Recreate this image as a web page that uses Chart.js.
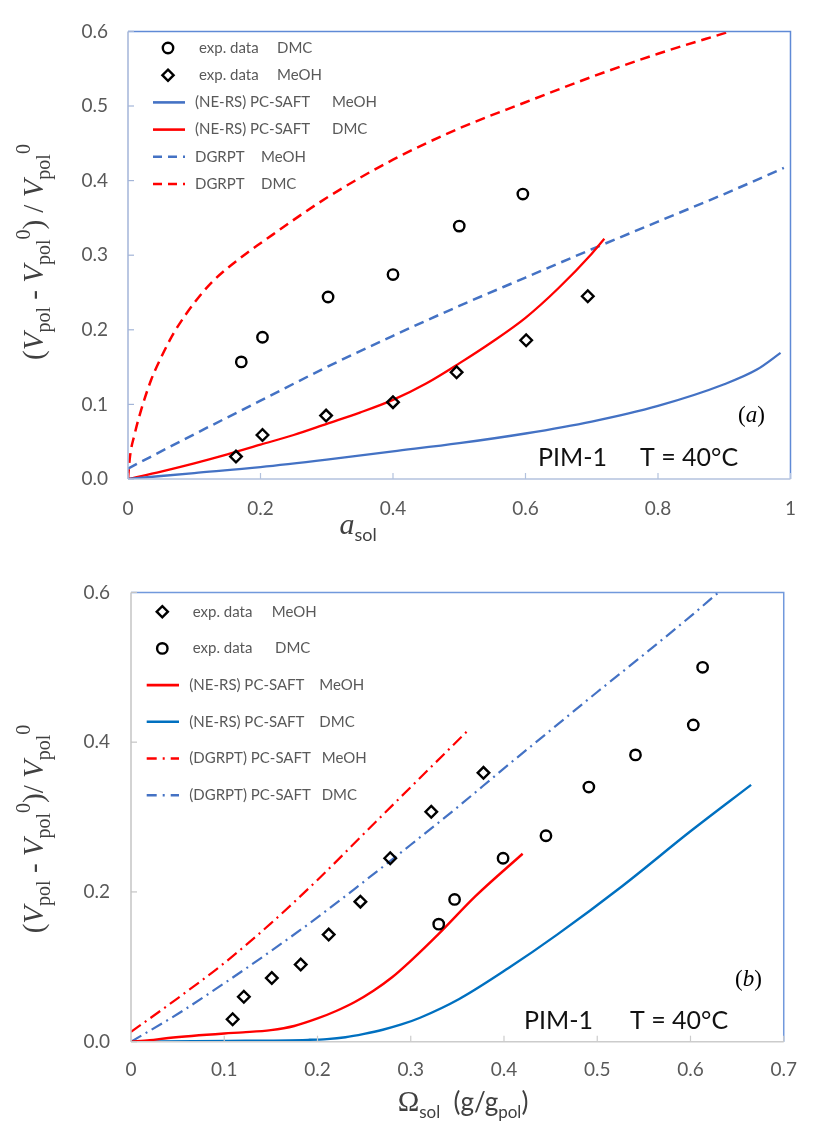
<!DOCTYPE html>
<html>
<head>
<meta charset="utf-8">
<script src="https://cdn.jsdelivr.net/npm/chart.js@4.4.1/dist/chart.umd.min.js"></script>
<style>
  html, body { margin: 0; padding: 0; background: #ffffff; }
  #wrap { position: relative; width: 814px; height: 1125px; }
  canvas { position: absolute; left: 0; }
  #chartA { top: 0; }
  #chartB { top: 560px; }
</style>
</head>
<body>
<div id="wrap">
  <canvas id="chartA" width="814" height="560"></canvas>
  <canvas id="chartB" width="814" height="565"></canvas>
</div>
<script>
// ---------- Panel (a): swelling vs solvent activity ----------
const aXTicks = [0, 0.2, 0.4, 0.6, 0.8, 1];
const aXTickLabels = ['0', '0.2', '0.4', '0.6', '0.8', '1'];
const aYTicks = [0, 0.1, 0.2, 0.3, 0.4, 0.5, 0.6];
const aYTickLabels = ['0.0', '0.1', '0.2', '0.3', '0.4', '0.5', '0.6'];

const aExpDmcX = [0.171, 0.203, 0.302, 0.400, 0.500, 0.596];
const aExpDmcY = [0.157, 0.190, 0.244, 0.274, 0.339, 0.382];
const aExpMeohX = [0.163, 0.203, 0.299, 0.400, 0.496, 0.601, 0.694];
const aExpMeohY = [0.030, 0.059, 0.085, 0.103, 0.143, 0.186, 0.245];

const aNersMeohX = [0, 0.1, 0.2, 0.3, 0.4, 0.5, 0.6, 0.7, 0.8, 0.9, 0.95, 0.985];
const aNersMeohY = [0, 0.008, 0.016, 0.026, 0.037, 0.048, 0.061, 0.077, 0.098, 0.127, 0.147, 0.169];
const aNersDmcX = [0, 0.05, 0.1, 0.15, 0.2, 0.25, 0.3, 0.35, 0.4, 0.45, 0.5, 0.55, 0.6, 0.65, 0.7, 0.719];
const aNersDmcY = [0, 0.010, 0.021, 0.033, 0.046, 0.059, 0.074, 0.089, 0.106, 0.128, 0.155, 0.184, 0.216, 0.256, 0.302, 0.322];
const aDgrptMeohX = [0, 0.1, 0.2, 0.3, 0.4, 0.5, 0.6, 0.7, 0.8, 0.9, 0.99];
const aDgrptMeohY = [0.014, 0.060, 0.105, 0.150, 0.192, 0.232, 0.270, 0.308, 0.345, 0.382, 0.417];
const aDgrptDmcX = [0, 0.003, 0.01, 0.02, 0.035, 0.05, 0.07, 0.1, 0.128, 0.175, 0.2, 0.3, 0.4, 0.5, 0.6, 0.7, 0.8, 0.909];
const aDgrptDmcY = [0, 0.03, 0.06, 0.093, 0.133, 0.163, 0.197, 0.236, 0.265, 0.300, 0.316, 0.377, 0.428, 0.47, 0.505, 0.539, 0.570, 0.600];

const aLegendLabels = [
  ['exp. data', 'DMC'],
  ['exp. data', 'MeOH'],
  ['(NE-RS) PC-SAFT', 'MeOH'],
  ['(NE-RS) PC-SAFT', 'DMC'],
  ['DGRPT', 'MeOH'],
  ['DGRPT', 'DMC']
];

// ---------- Panel (b): swelling vs solvent mass uptake ----------
const bXTicks = [0, 0.1, 0.2, 0.3, 0.4, 0.5, 0.6, 0.7];
const bXTickLabels = ['0', '0.1', '0.2', '0.3', '0.4', '0.5', '0.6', '0.7'];
const bYTicks = [0, 0.2, 0.4, 0.6];
const bYTickLabels = ['0.0', '0.2', '0.4', '0.6'];

const bExpMeohX = [0.109, 0.121, 0.151, 0.182, 0.212, 0.246, 0.278, 0.322, 0.378];
const bExpMeohY = [0.030, 0.060, 0.085, 0.103, 0.143, 0.187, 0.245, 0.307, 0.359];
const bExpDmcX = [0.330, 0.347, 0.399, 0.445, 0.491, 0.541, 0.603, 0.613];
const bExpDmcY = [0.157, 0.190, 0.245, 0.275, 0.340, 0.383, 0.423, 0.500];

const bNersMeohX = [0, 0.02, 0.04, 0.1, 0.12, 0.15, 0.175, 0.2, 0.22, 0.24, 0.26, 0.28, 0.30, 0.33, 0.37, 0.42];
const bNersMeohY = [0, 0.002, 0.005, 0.011, 0.0125, 0.0155, 0.021, 0.031, 0.041, 0.053, 0.068, 0.086, 0.108, 0.144, 0.195, 0.251];
const bNersDmcX = [0, 0.1, 0.19, 0.21, 0.23, 0.25, 0.27, 0.29, 0.31, 0.352, 0.4045, 0.457, 0.527, 0.6, 0.665];
const bNersDmcY = [0, 0.001, 0.0025, 0.0035, 0.006, 0.0105, 0.016, 0.023, 0.032, 0.057, 0.098, 0.143, 0.208, 0.281, 0.343];
const bDgrptMeohX = [0, 0.05, 0.1, 0.15, 0.2, 0.25, 0.3, 0.3633];
const bDgrptMeohY = [0.013, 0.058, 0.105, 0.158, 0.216, 0.278, 0.340, 0.418];
const bDgrptDmcX = [0, 0.05, 0.1, 0.15, 0.2, 0.25, 0.3, 0.35, 0.4, 0.45, 0.5, 0.55, 0.6, 0.63];
const bDgrptDmcY = [0, 0.037, 0.078, 0.121, 0.166, 0.214, 0.263, 0.313, 0.365, 0.416, 0.467, 0.517, 0.568, 0.600];

const bLegendLabels = [
  ['exp. data', 'MeOH'],
  ['exp. data', 'DMC'],
  ['(NE-RS) PC-SAFT', 'MeOH'],
  ['(NE-RS) PC-SAFT', 'DMC'],
  ['(DGRPT) PC-SAFT', 'MeOH'],
  ['(DGRPT) PC-SAFT', 'DMC']
];

const panelNote = ['PIM-1', 'T = 40°C'];

// ---------- helpers ----------
const RED = '#ff0000';
const BLUE = '#4472c4';
const BLUE2 = '#0070c0';
const DASH = [10, 6];
const DASHDOT = [12, 5, 2, 5];
const SANS = 'Lato, "Open Sans", sans-serif';
const SERIF = '"Liberation Serif", "Times New Roman", serif';

function pts(xs, ys) { return xs.map((x, i) => ({ x: x, y: ys[i] })); }

function lineSet(label, xs, ys, color, dash, width) {
  return {
    label: label, data: pts(xs, ys), showLine: true,
    borderColor: color, backgroundColor: color, borderWidth: width || 2.3,
    borderDash: dash || [], pointRadius: 0, pointHoverRadius: 0,
    cubicInterpolationMode: 'monotone', fill: false
  };
}
function markSet(label, xs, ys, style) {
  return {
    label: label, data: pts(xs, ys), showLine: false,
    pointStyle: style, pointRadius: style === 'circle' ? 5.2 : 5.8,
    borderColor: '#000000', backgroundColor: 'rgba(255,255,255,0)', pointBorderWidth: 2.4,
    borderWidth: 2.4
  };
}

function drawRich(ctx, parts, x, y, align) {
  let w = 0;
  parts.forEach(p => { ctx.font = p.font; w += ctx.measureText(p.text).width + (p.dx || 0); });
  let cx = align === 'center' ? x - w / 2 : x;
  ctx.textBaseline = 'alphabetic';
  ctx.textAlign = 'left';
  parts.forEach(p => {
    ctx.font = p.font;
    ctx.fillStyle = p.color || '#000000';
    cx += p.dx || 0;
    ctx.fillText(p.text, cx, y + (p.dy || 0));
    cx += ctx.measureText(p.text).width;
  });
}

function drawMarker(ctx, kind, x, y) {
  ctx.save();
  ctx.strokeStyle = '#000000';
  ctx.lineWidth = 2.4;
  ctx.beginPath();
  if (kind === 'circle') {
    ctx.arc(x, y, 5.2, 0, Math.PI * 2);
  } else {
    const r = 5.6;
    ctx.moveTo(x, y - r); ctx.lineTo(x + r, y); ctx.lineTo(x, y + r); ctx.lineTo(x - r, y); ctx.closePath();
  }
  ctx.stroke();
  ctx.restore();
}

// frame, inner tick marks, legend, notes and axis titles
const decor = {
  id: 'decor',
  afterDraw(chart, args, o) {
    const ctx = chart.ctx;
    const a = chart.chartArea;
    const xs = chart.scales.x, ys = chart.scales.y;
    ctx.save();
    ctx.lineWidth = 1.5;
    // top and right border
    ctx.strokeStyle = o.frameColor;
    ctx.beginPath();
    ctx.moveTo(a.left, a.top); ctx.lineTo(a.right, a.top); ctx.lineTo(a.right, a.bottom);
    ctx.stroke();
    // left axis
    ctx.strokeStyle = o.leftColor;
    ctx.beginPath(); ctx.moveTo(a.left, a.top); ctx.lineTo(a.left, a.bottom); ctx.stroke();
    // bottom axis
    ctx.strokeStyle = o.bottomColor;
    ctx.beginPath(); ctx.moveTo(a.left, a.bottom); ctx.lineTo(a.right, a.bottom); ctx.stroke();
    // inner tick marks
    ctx.lineWidth = 1.2;
    ctx.strokeStyle = o.leftColor;
    ys.ticks.forEach(t => {
      const py = ys.getPixelForValue(t.value);
      ctx.beginPath(); ctx.moveTo(a.left, py); ctx.lineTo(a.left + 6, py); ctx.stroke();
    });
    ctx.strokeStyle = o.bottomColor;
    xs.ticks.forEach(t => {
      const px = xs.getPixelForValue(t.value);
      ctx.beginPath(); ctx.moveTo(px, a.bottom); ctx.lineTo(px, a.bottom - 6); ctx.stroke();
    });

    // legend
    const L = o.legend;
    o.legendLabels.forEach((lab, i) => {
      const item = L.items[i];
      const y = L.y0 + i * L.step;
      if (item.kind === 'circle' || item.kind === 'diamond') {
        drawMarker(ctx, item.kind, L.markX, y);
      } else {
        ctx.save();
        ctx.strokeStyle = item.color;
        ctx.lineWidth = 2.6;
        ctx.setLineDash(item.dash || []);
        ctx.beginPath(); ctx.moveTo(L.lineX0, y); ctx.lineTo(L.lineX1, y); ctx.stroke();
        ctx.restore();
      }
      ctx.font = L.font;
      ctx.fillStyle = '#595959';
      ctx.textBaseline = 'middle';
      ctx.textAlign = 'left';
      ctx.fillText(lab[0], item.t1, y);
      ctx.fillText(lab[1], item.t2, y);
    });

    // panel notes
    ctx.fillStyle = '#111111';
    ctx.font = '25px ' + SANS;
    ctx.textBaseline = 'alphabetic';
    ctx.textAlign = 'left';
    ctx.fillText(panelNote[0], o.note.x1, o.note.y);
    ctx.fillText(panelNote[1], o.note.x2, o.note.y);
    drawRich(ctx, [
      { text: '(', font: '23px ' + SERIF },
      { text: o.tag.letter, font: 'italic 23px ' + SERIF },
      { text: ')', font: '23px ' + SERIF }
    ], o.tag.x, o.tag.y, 'left');

    // x-axis title
    drawRich(ctx, o.xTitle.parts, o.xTitle.x, o.xTitle.y, 'center');

    // y-axis title (rotated)
    ctx.save();
    ctx.translate(o.yTitle.x, o.yTitle.y);
    ctx.rotate(-Math.PI / 2);
    drawRich(ctx, o.yTitle.parts, 0, 0, 'center');
    ctx.restore();

    ctx.restore();
  }
};

function yTitleParts(slashSpace) {
  const M = '29px ' + SERIF, MI = 'italic 29px ' + SERIF, S = '20px ' + SERIF;
  const c = '#404040';
  return [
    { text: '(', font: M, color: c },
    { text: 'V', font: MI, color: c },
    { text: 'pol', font: S, dy: 7, color: c },
    { text: ' - ', font: M, color: c },
    { text: 'V', font: MI, color: c },
    { text: 'pol', font: S, dy: 7, color: c },
    { text: '0', font: S, dy: -13, color: c },
    { text: slashSpace ? ') / ' : ')/ ', font: M, color: c },
    { text: 'V', font: MI, color: c },
    { text: 'pol', font: S, dy: 7, color: c },
    { text: '0', font: S, dy: -13, color: c }
  ];
}

function scalesFor(xMin, xMax, xTicks, xLabels, yMax, yTicks, yLabels, yWidth, xHeight, yPad, xPad) {
  const tickFont = { family: SANS, size: 19 };
  return {
    x: {
      type: 'linear', min: xMin, max: xMax,
      grid: { display: false, drawTicks: false }, border: { display: false },
      afterBuildTicks: s => { s.ticks = xTicks.map(v => ({ value: v })); },
      ticks: { color: '#595959', font: tickFont, padding: xPad, maxRotation: 0, autoSkip: false,
        callback: (v, i) => xLabels[i] },
      afterFit: s => { s.height = xHeight; }
    },
    y: {
      type: 'linear', min: 0, max: yMax,
      grid: { display: false, drawTicks: false }, border: { display: false },
      afterBuildTicks: s => { s.ticks = yTicks.map(v => ({ value: v })); },
      ticks: { color: '#595959', font: tickFont, padding: yPad, autoSkip: false,
        callback: (v, i) => yLabels[i] },
      afterFit: s => { s.width = yWidth; }
    }
  };
}

Chart.defaults.font.family = SANS;

// ---------- chart (a) ----------
new Chart(document.getElementById('chartA'), {
  type: 'scatter',
  data: {
    datasets: [
      markSet('exp. data DMC', aExpDmcX, aExpDmcY, 'circle'),
      markSet('exp. data MeOH', aExpMeohX, aExpMeohY, 'rectRot'),
      lineSet('(NE-RS) PC-SAFT MeOH', aNersMeohX, aNersMeohY, BLUE, null, 2.3),
      lineSet('(NE-RS) PC-SAFT DMC', aNersDmcX, aNersDmcY, RED, null, 2.3),
      lineSet('DGRPT MeOH', aDgrptMeohX, aDgrptMeohY, BLUE, DASH, 2.5),
      lineSet('DGRPT DMC', aDgrptDmcX, aDgrptDmcY, RED, DASH, 2.5)
    ]
  },
  options: {
    responsive: false, animation: false, devicePixelRatio: 1,
    layout: { padding: { left: 0, top: 21, right: 18, bottom: 0 } },
    scales: scalesFor(0, 1, aXTicks, aXTickLabels, 0.6, aYTicks, aYTickLabels, 128, 81, 20, 18),
    plugins: {
      legend: { display: false }, tooltip: { enabled: false },
      decor: {
        frameColor: '#5f8ad6', leftColor: '#a3b5d8', bottomColor: '#b3c2de',
        legendLabels: aLegendLabels,
        legend: {
          y0: 48, step: 27.2, markX: 168, lineX0: 153, lineX1: 185, font: '15px ' + SANS,
          items: [
            { kind: 'circle', t1: 199, t2: 277 },
            { kind: 'diamond', t1: 199, t2: 277 },
            { kind: 'line', color: BLUE, t1: 195, t2: 332 },
            { kind: 'line', color: RED, t1: 195, t2: 332 },
            { kind: 'line', color: BLUE, dash: [9, 6], t1: 195, t2: 261 },
            { kind: 'line', color: RED, dash: [9, 6], t1: 195, t2: 261 }
          ]
        },
        note: { x1: 538, x2: 640, y: 466 },
        tag: { letter: 'a', x: 738, y: 422 },
        xTitle: { x: 358, y: 534, parts: [
          { text: 'a', font: 'italic 30px ' + SERIF, color: '#404040' },
          { text: 'sol', font: '18px ' + SANS, dy: 7, color: '#404040' }
        ] },
        yTitle: { x: 43, y: 252, parts: yTitleParts(true) }
      }
    }
  },
  plugins: [decor]
});

// ---------- chart (b) ----------
new Chart(document.getElementById('chartB'), {
  type: 'scatter',
  data: {
    datasets: [
      markSet('exp. data MeOH', bExpMeohX, bExpMeohY, 'rectRot'),
      markSet('exp. data DMC', bExpDmcX, bExpDmcY, 'circle'),
      lineSet('(NE-RS) PC-SAFT MeOH', bNersMeohX, bNersMeohY, RED, null, 2.4),
      lineSet('(NE-RS) PC-SAFT DMC', bNersDmcX, bNersDmcY, BLUE2, null, 2.4),
      lineSet('(DGRPT) PC-SAFT MeOH', bDgrptMeohX, bDgrptMeohY, RED, DASHDOT, 2.2),
      lineSet('(DGRPT) PC-SAFT DMC', bDgrptDmcX, bDgrptDmcY, BLUE, DASHDOT, 2.2)
    ]
  },
  options: {
    responsive: false, animation: false, devicePixelRatio: 1,
    layout: { padding: { left: 0, top: 29.5, right: 15, bottom: 0 } },
    scales: scalesFor(0, 0.7, bXTicks, bXTickLabels, 0.6, bYTicks, bYTickLabels, 131, 83.3, 21, 17),
    plugins: {
      legend: { display: false }, tooltip: { enabled: false },
      decor: {
        frameColor: '#7199dc', leftColor: '#c4c4c4', bottomColor: '#cccccc',
        legendLabels: bLegendLabels,
        legend: {
          y0: 51.7, step: 36.7, markX: 162.3, lineX0: 146.7, lineX1: 179, font: '15px ' + SANS,
          items: [
            { kind: 'diamond', t1: 192.7, t2: 271.7 },
            { kind: 'circle', t1: 192.7, t2: 275 },
            { kind: 'line', color: RED, t1: 189.3, t2: 319.3 },
            { kind: 'line', color: BLUE2, t1: 189.3, t2: 319.3 },
            { kind: 'line', color: RED, dash: [10, 6, 2, 6], t1: 189.3, t2: 321.7 },
            { kind: 'line', color: BLUE, dash: [10, 6, 2, 6], t1: 189.3, t2: 321.7 }
          ]
        },
        note: { x1: 524, x2: 630, y: 469 },
        tag: { letter: 'b', x: 735, y: 426 },
        xTitle: { x: 463, y: 551, parts: [
          { text: 'Ω', font: '29px ' + SERIF, color: '#404040' },
          { text: 'sol', font: '17px ' + SANS, dy: 7, color: '#404040' },
          { text: '  (g/g', font: '26px ' + SANS, color: '#404040' },
          { text: 'pol', font: '17px ' + SANS, dy: 7, color: '#404040' },
          { text: ')', font: '26px ' + SANS, color: '#404040' }
        ] },
        yTitle: { x: 43, y: 269, parts: yTitleParts(false) }
      }
    }
  },
  plugins: [decor]
});
</script>
</body>
</html>
